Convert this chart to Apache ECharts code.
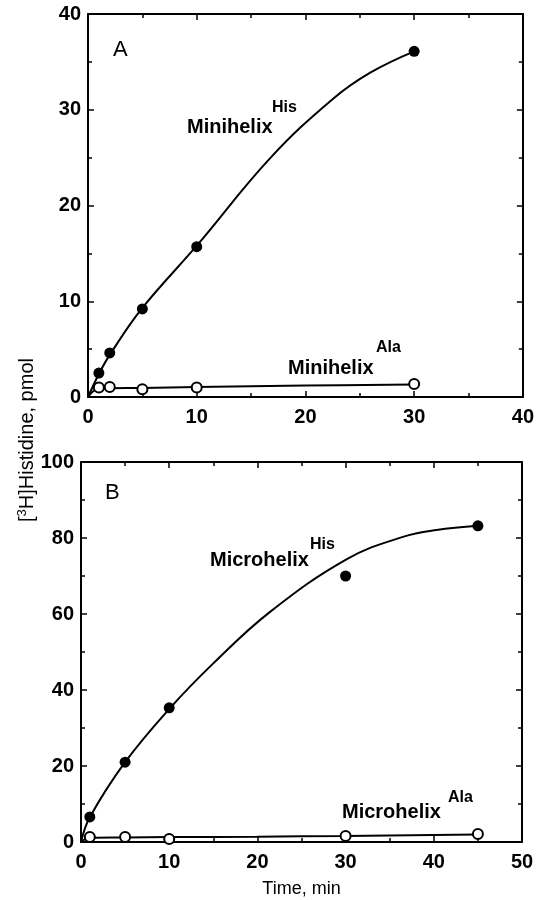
<!DOCTYPE html>
<html>
<head>
<meta charset="utf-8">
<title>[3H]Histidine vs time</title>
<script src="https://cdn.jsdelivr.net/npm/echarts@6/dist/echarts.min.js"></script>
<style>
  html, body { margin: 0; padding: 0; background: #fff; }
  #chart { width: 537px; height: 900px; }
</style>
</head>
<body>
<div id="chart"></div>
<script>
// panel A: minihelix, time (min) vs [3H]histidine (pmol)
const timesA = [1, 2, 5, 10, 30]
const miniHis = [2.5, 4.6, 9.2, 15.7, 36.1]
const miniAla = [1.0, 1.05, 0.8, 1.0, 1.35]
// fitted curves
const curveTimesHisA = [0, 1, 2, 5, 10, 16.8, 22.6, 26, 30]
const curveMiniHis = [0, 2.4, 4.4, 9.3, 15.8, 25.0, 31.2, 33.9, 36.1]
const curveTimesAlaA = [0, 1, 5, 10, 20, 30]
const curveMiniAla = [0, 0.85, 0.95, 1.05, 1.2, 1.3]

// panel B: microhelix
const timesB = [1, 5, 10, 30, 45]
const microHis = [6.6, 21, 35.3, 70, 83.2]
const microAla = [1.3, 1.3, 0.8, 1.6, 2.1]
const curveTimesHisB = [0, 1, 5, 10, 15, 21.4, 30.2, 36.5, 40.3, 45]
const curveMicroHis = [0, 6.5, 21, 35, 47, 60.5, 74.5, 80.3, 82.1, 83.2]
const curveTimesAlaB = [0, 1, 5, 10, 20, 30, 45]
const curveMicroAla = [0, 1.1, 1.2, 1.3, 1.4, 1.6, 2.0]

// tick labels
const xTicksA = [0, 10, 20, 30, 40]
const yTicksA = [0, 10, 20, 30, 40]
const xTicksB = [0, 10, 20, 30, 40, 50]
const yTicksB = [0, 20, 40, 60, 80, 100]

const FONT = '"Liberation Sans", Arial, Helvetica, sans-serif'
const pairs = (xs, ys) => xs.map((x, i) => [x, ys[i]])

const chart = echarts.init(document.getElementById('chart'))

function axis(type, grid, ticks, position, showLabel) {
  return {
    type: 'value',
    gridIndex: grid,
    position: position,
    min: ticks[0],
    max: ticks[ticks.length - 1],
    interval: ticks[1] - ticks[0],
    axisLine: { show: true, onZero: false, lineStyle: { color: '#000', width: 2 } },
    axisTick: { show: true, inside: true, length: 6, lineStyle: { color: '#000', width: 1.5 } },
    minorTick: { show: true, splitNumber: 2, length: 4, lineStyle: { color: '#000', width: 1.5 } },
    splitLine: { show: false },
    minorSplitLine: { show: false },
    axisLabel: {
      show: showLabel,
      color: '#000',
      fontFamily: FONT,
      fontWeight: 'bold',
      fontSize: 20,
      margin: type == 'x' ? 10 : 7
    }
  }
}

function curve(x, y, xs, ys) {
  return {
    type: 'line',
    xAxisIndex: x,
    yAxisIndex: y,
    data: pairs(xs, ys),
    smooth: 0.4,
    symbol: 'none',
    silent: true,
    lineStyle: { color: '#000', width: 2 },
    z: 2
  }
}

function dots(x, y, xs, ys, filled) {
  return {
    type: 'scatter',
    xAxisIndex: x,
    yAxisIndex: y,
    data: pairs(xs, ys),
    symbol: 'circle',
    symbolSize: filled ? 11 : 10,
    itemStyle: filled
      ? { color: '#000', opacity: 1 }
      : { color: '#fff', borderColor: '#000', borderWidth: 2, opacity: 1 },
    z: 3
  }
}

function label(text, x, y, size, bold) {
  return {
    type: 'text',
    x: x,
    y: y,
    style: {
      text: text,
      font: (bold ? 'bold ' : '') + size + 'px ' + FONT,
      fill: '#000',
      textAlign: 'left',
      align: 'left',
      textVerticalAlign: 'middle',
      verticalAlign: 'middle'
    }
  }
}

chart.setOption({
  animation: false,
  backgroundColor: '#fff',
  grid: [
    { left: 88, top: 14, width: 440, height: 383 },
    { left: 81, top: 462, width: 441, height: 380 }
  ],
  xAxis: [
    axis('x', 0, xTicksA, 'bottom', true),
    axis('x', 0, xTicksA, 'top', false),
    Object.assign(axis('x', 1, xTicksB, 'bottom', true), {
      name: 'Time, min',
      nameLocation: 'middle',
      nameGap: 38,
      nameTextStyle: { color: '#000', fontFamily: FONT, fontSize: 18 }
    }),
    axis('x', 1, xTicksB, 'top', false)
  ],
  yAxis: [
    axis('y', 0, yTicksA, 'left', true),
    axis('y', 0, yTicksA, 'right', false),
    axis('y', 1, yTicksB, 'left', true),
    axis('y', 1, yTicksB, 'right', false)
  ],
  series: [
    curve(0, 0, curveTimesHisA, curveMiniHis),
    curve(0, 0, curveTimesAlaA, curveMiniAla),
    dots(0, 0, timesA, miniHis, true),
    dots(0, 0, timesA, miniAla, false),
    curve(2, 2, curveTimesHisB, curveMicroHis),
    curve(2, 2, curveTimesAlaB, curveMicroAla),
    dots(2, 2, timesB, microHis, true),
    dots(2, 2, timesB, microAla, false)
  ],
  graphic: [
    label('A', 113, 50, 22, false),
    label('B', 105, 493, 22, false),
    label('Minihelix', 187, 127, 20, true),
    label('His', 272, 108, 16, true),
    label('Minihelix', 288, 368, 20, true),
    label('Ala', 376, 348, 16, true),
    label('Microhelix', 210, 560, 20, true),
    label('His', 310, 545, 16, true),
    label('Microhelix', 342, 812, 20, true),
    label('Ala', 448, 798, 16, true),
    {
      type: 'text',
      x: 27,
      y: 440,
      rotation: Math.PI / 2,
      style: {
        text: '[{s|3}H]Histidine, pmol',
        font: '20px ' + FONT,
        fill: '#000',
        textAlign: 'center',
        align: 'center',
        textVerticalAlign: 'middle',
        verticalAlign: 'middle',
        rich: {
          s: { fontSize: 13, fontFamily: FONT, padding: [0, 0, 9, 0] }
        }
      }
    }
  ]
})
</script>
</body>
</html>
